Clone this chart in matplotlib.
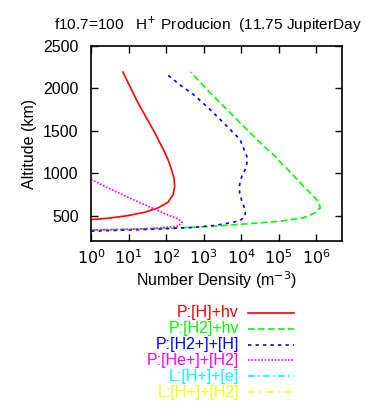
"""H+ production profiles vs altitude, gnuplot-like layout."""
import numpy as np
import matplotlib
matplotlib.use("Agg")
import matplotlib.pyplot as plt

plt.rcParams["font.family"] = ["Liberation Sans", "DejaVu Sans"]

# log10(number density) and altitude (km)
h_hv_logn = [0.0, 0.45, 0.99, 1.43, 1.79, 2.05, 2.19, 2.23, 2.21, 2.13, 2.05, 1.97,
             1.70, 1.25, 0.85]
h_hv_alt = [453, 468, 500, 539, 591, 657, 748, 846, 945, 1064, 1162, 1241,
            1478, 1832, 2194]

h2_hv_logn = [0.0, 1.2, 2.37, 3.26, 4.15, 5.04, 5.66, 5.97, 6.11, 6.06, 5.93, 5.66,
              5.33, 5.20, 5.02, 4.95, 4.51, 4.06, 3.62, 3.17, 2.66]
h2_hv_alt = [330, 342, 355, 374, 402, 433, 473, 532, 591, 669, 728, 846,
             1005, 1064, 1141, 1182, 1359, 1556, 1753, 1950, 2194]

h2p_h_logn = [0.0, 1.93, 2.7, 3.26, 3.71, 3.97, 4.11, 4.11, 4.02, 3.96, 3.96, 4.02,
              4.13, 4.17, 4.15, 4.06, 3.97, 3.62, 3.17, 2.73, 2.37, 1.97]
h2p_h_alt = [316, 343, 360, 382, 414, 441, 492, 571, 669, 768, 866, 965,
             1064, 1162, 1201, 1300, 1399, 1556, 1753, 1930, 2043, 2186]

hep_h2_logn = [0.0, 0.45, 0.99, 1.52, 1.96, 2.32, 2.43, 2.32, 1.70, 0.81, 0.0]
hep_h2_alt = [926, 827, 716, 610, 524, 461, 421, 374, 350, 334, 331]

# loss terms fall outside the plotted range
hp_e_logn, hp_e_alt = [], []
hp_h2_logn, hp_h2_alt = [], []

series = [
    ("P:[H]+hv", h_hv_logn, h_hv_alt, "#ff0000", "-"),
    ("P:[H2]+hv", h2_hv_logn, h2_hv_alt, "#00ff00", (0, (4, 2))),
    ("P:[H2+]+[H]", h2p_h_logn, h2p_h_alt, "#0000ff", (0, (2, 2.5))),
    ("P:[He+]+[H2]", hep_h2_logn, hep_h2_alt, "#ff00ff", (0, (1, 1))),
    ("L:[H+]+[e]", hp_e_logn, hp_e_alt, "#00ffff", (0, (4, 2, 1, 2))),
    ("L:[H+]+[H2]", hp_h2_logn, hp_h2_alt, "#ffff00", (0, (4, 3, 1, 3))),
]

fs = 11.5
fig = plt.figure(figsize=(3.67, 4.01), dpi=100)
ax = fig.add_axes([0.248, 0.399, 0.684, 0.486])

for label, logn, alt, color, ls in series:
    ax.plot(10 ** np.array(logn, dtype=float), alt, color=color, ls=ls, lw=1.2)

ax.set_xscale("log")
ax.set_xlim(1, 10 ** 6.69)
ax.set_ylim(200, 2500)
ax.set_xticks([10 ** k for k in range(7)])
ax.set_xticklabels([f"$10^{k}$" for k in range(7)])
ax.set_yticks([500, 1000, 1500, 2000, 2500])
ax.tick_params(which="both", direction="in", top=True, right=True, labelsize=fs)
ax.tick_params(which="major", length=5, width=1)
ax.tick_params(which="minor", length=3, width=0.8)
ax.tick_params(axis="x", pad=5)
ax.tick_params(axis="y", pad=9)
for s in ax.spines.values():
    s.set_linewidth(1.2)

ax.set_xlabel("Number Density (m$^{-3}$)", fontsize=fs, labelpad=2)
ax.set_ylabel("Altitude (km)", fontsize=fs, labelpad=4)
# title runs off the right edge, as in the original
fig.text(54 / 367, 1 - 25 / 401, "f10.7=100   H$^{+}$ Producion  (11.75 JupiterDay",
         fontsize=11.1, va="center", ha="left")

# legend block drawn below the axes, labels right-aligned
for i, (label, logn, alt, color, ls) in enumerate(series):
    y = 1 - (313 + 15.8 * i) / 401
    fig.text(239 / 367, y, label, color=color, fontsize=fs, ha="right", va="center")
    fig.add_artist(plt.Line2D([248 / 367, 294 / 367], [y, y], color=color, ls=ls,
                              lw=1.2, transform=fig.transFigure))

fig.savefig("out.png", dpi=100)
